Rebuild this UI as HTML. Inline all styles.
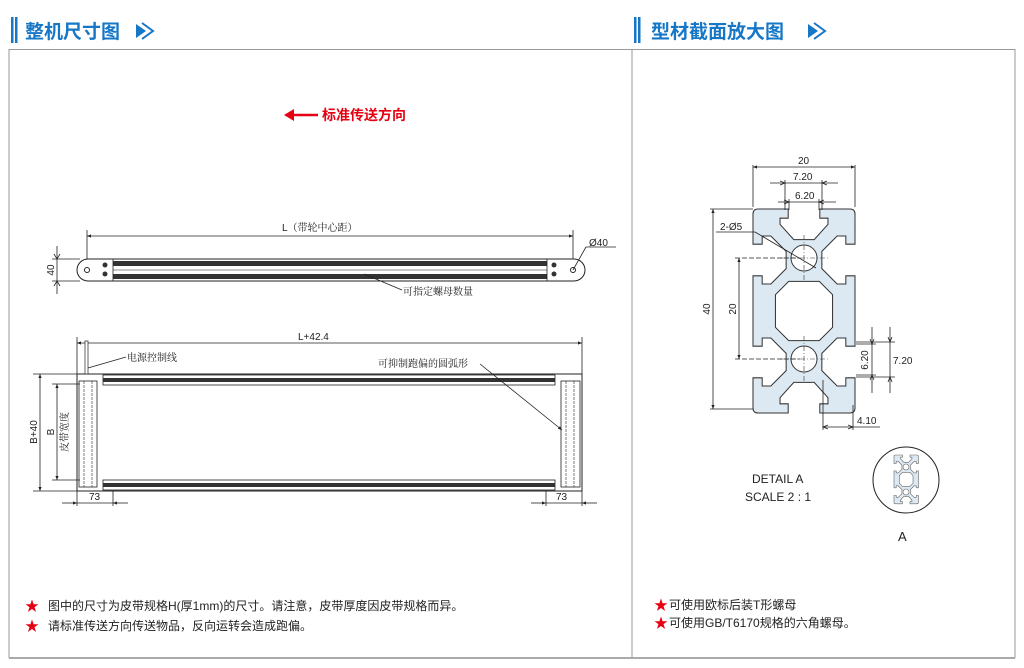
<!DOCTYPE html>
<html><head><meta charset="utf-8"><style>
html,body{margin:0;padding:0;background:#fff;width:1024px;height:668px;overflow:hidden}
svg{display:block;font-family:"Liberation Sans","Noto Sans CJK SC",sans-serif}
.h{font-family:"Noto Sans CJK SC","WenQuanYi Zen Hei",sans-serif;font-weight:bold;fill:#1677c7;font-size:19px}
.t{font-size:10px;fill:#222;font-family:"Liberation Sans","Noto Serif CJK SC",serif}
.d{font-size:10px;fill:#222}
.n{font-size:12px;fill:#222;font-family:"Liberation Sans","Noto Sans CJK SC",sans-serif}
.ln{stroke:#222;stroke-width:0.8;fill:none}
</style></head><body>
<svg width="1024" height="668" viewBox="0 0 1024 668" xmlns="http://www.w3.org/2000/svg">
<defs>
<marker id="a" viewBox="0 0 10 10" refX="10" refY="5" markerWidth="7" markerHeight="5" orient="auto-start-reverse"><path d="M0,1 L10,5 L0,9 Z" fill="#222"/></marker>
<path id="prof" d="M0,1 Q0,0 1,0 L6.9,0 L6.9,1.8 L5.3,1.8 L5.3,3 L8,6 L12,6 L14.7,3 L14.7,1.8 L13.1,1.8 L13.1,0 L19,0 Q20,0 20,1 L20,6.9 L18.2,6.9 L18.2,5.3 L16.5,5.3 L13.5,8.3 L13.5,11.7 L16.5,14.7 L18.2,14.7 L18.2,13.1 L20,13.1 L20,26.9 L18.2,26.9 L18.2,25.3 L16.5,25.3 L13.5,28.3 L13.5,31.7 L16.5,34.7 L18.2,34.7 L18.2,33.1 L20,33.1 L20,39 Q20,40 19,40 L13.1,40 L13.1,38.2 L14.7,38.2 L14.7,37 L12,34 L8,34 L5.3,37 L5.3,38.2 L6.9,38.2 L6.9,40 L1,40 Q0,40 0,39 L0,33.1 L1.8,33.1 L1.8,34.7 L3.5,34.7 L6.5,31.7 L6.5,28.3 L3.5,25.3 L1.8,25.3 L1.8,26.9 L0,26.9 L0,13.1 L1.8,13.1 L1.8,14.7 L3.5,14.7 L6.5,11.7 L6.5,8.3 L3.5,5.3 L1.8,5.3 L1.8,6.9 L0,6.9 Z M7,14.2 L13,14.2 L15.6,16.8 L15.6,23.2 L13,25.8 L7,25.8 L4.4,23.2 L4.4,16.8 Z"/>
</defs>
<!-- headers -->
<rect x="11" y="17" width="2.5" height="26" fill="#1677c7"/><rect x="15" y="17" width="2.5" height="26" fill="#1677c7"/>
<text x="25" y="38" class="h">整机尺寸图</text>
<path d="M136,24 L146,31 L136,38 Z" fill="#1677c7"/><path d="M142,23 L153,31 L142,39" stroke="#1677c7" stroke-width="2" fill="none"/>
<rect x="634" y="17" width="2.5" height="26" fill="#1677c7"/><rect x="638" y="17" width="2.5" height="26" fill="#1677c7"/>
<text x="651" y="38" class="h">型材截面放大图</text>
<path d="M808,24 L818,31 L808,38 Z" fill="#1677c7"/><path d="M814,23 L825,31 L814,39" stroke="#1677c7" stroke-width="2" fill="none"/>
<!-- frame -->
<rect x="9" y="49.5" width="1006" height="608" fill="none" stroke="#999" stroke-width="1"/>
<line x1="9" y1="658" x2="1015" y2="658" stroke="#aaa" stroke-width="2"/>
<line x1="632" y1="50" x2="632" y2="658" stroke="#999" stroke-width="1"/>
<!-- direction -->
<line x1="292" y1="115" x2="318" y2="115" stroke="#e60012" stroke-width="2.5"/>
<path d="M284,115 L294,109 L294,121 Z" fill="#e60012"/>
<text x="322" y="120" font-size="14" font-weight="bold" fill="#e60012" font-family="Noto Sans CJK SC,sans-serif">标准传送方向</text>
<!-- top view -->
<line x1="87" y1="236" x2="573" y2="236" class="ln" marker-start="url(#a)" marker-end="url(#a)"/>
<line x1="87" y1="230" x2="87" y2="262" class="ln"/><line x1="573" y1="230" x2="573" y2="262" class="ln"/>
<text x="282" y="231" class="t">L（带轮中心距）</text>
<rect x="77" y="259" width="508" height="22" rx="11" fill="#fff" stroke="#222" stroke-width="1"/>
<rect x="113" y="261" width="434" height="5" fill="#333"/><rect x="113" y="274" width="434" height="5" fill="#333"/>
<line x1="113" y1="270" x2="547" y2="270" stroke="#666" stroke-width="0.8"/>
<line x1="113" y1="259" x2="113" y2="281" class="ln"/><line x1="547" y1="259" x2="547" y2="281" class="ln"/>
<circle cx="87" cy="270" r="2.5" fill="#fff" stroke="#222"/><circle cx="573" cy="270" r="2.5" fill="#fff" stroke="#222"/>
<circle cx="105" cy="265" r="2.5" fill="#333"/><circle cx="105" cy="274" r="2.5" fill="#333"/>
<circle cx="554" cy="265" r="2.5" fill="#333"/><circle cx="554" cy="274" r="2.5" fill="#333"/>
<line x1="52" y1="259" x2="80" y2="259" class="ln"/><line x1="52" y1="281" x2="80" y2="281" class="ln"/>
<line x1="57" y1="246" x2="57" y2="294" class="ln"/>
<path d="M54,254 L57,259 L60,254 M54,286 L57,281 L60,286" class="ln"/>
<text x="54" y="270" class="d" transform="rotate(-90 54 270)" text-anchor="middle">40</text>
<line x1="573" y1="270" x2="586" y2="247" class="ln"/><line x1="586" y1="247" x2="616" y2="247" class="ln"/>
<text x="589" y="246" class="d" font-size="11">Ø40</text>
<line x1="364" y1="274" x2="402" y2="290" class="ln"/>
<text x="403" y="295" class="t">可指定螺母数量</text>
<!-- bottom view -->
<line x1="77" y1="343" x2="582" y2="343" class="ln" marker-start="url(#a)" marker-end="url(#a)"/>
<line x1="77" y1="337" x2="77" y2="375" class="ln"/><line x1="582" y1="337" x2="582" y2="375" class="ln"/>
<text x="298" y="340" class="d">L+42.4</text>
<rect x="77" y="374" width="505" height="117" fill="#fff" stroke="#222" stroke-width="1"/>
<rect x="103" y="375" width="452" height="10" fill="#fff" stroke="#222" stroke-width="0.8"/>
<rect x="103" y="378" width="452" height="4" fill="#333"/>
<rect x="103" y="480" width="452" height="10" fill="#fff" stroke="#222" stroke-width="0.8"/>
<rect x="103" y="483" width="452" height="4" fill="#333"/>
<rect x="79" y="381" width="18" height="106" fill="#fff" stroke="#222" stroke-width="0.8"/>
<line x1="84" y1="381" x2="84" y2="487" stroke="#222" stroke-width="0.6" stroke-dasharray="3,1"/>
<line x1="92" y1="381" x2="92" y2="487" stroke="#222" stroke-width="0.6" stroke-dasharray="3,1"/>
<rect x="561" y="381" width="19" height="106" fill="#fff" stroke="#222" stroke-width="0.8"/>
<line x1="566" y1="381" x2="566" y2="487" stroke="#222" stroke-width="0.6" stroke-dasharray="3,1"/>
<line x1="574" y1="381" x2="574" y2="487" stroke="#222" stroke-width="0.6" stroke-dasharray="3,1"/>
<rect x="85" y="341" width="3" height="33" fill="#fff" stroke="#222" stroke-width="0.7"/>
<line x1="88" y1="368" x2="126" y2="357" class="ln"/>
<text x="127" y="361" class="t">电源控制线</text>
<text x="378" y="367" class="t">可抑制跑偏的圆弧形</text>
<line x1="480" y1="364" x2="562" y2="430" class="ln" marker-end="url(#a)"/>
<line x1="33" y1="374" x2="77" y2="374" class="ln"/><line x1="33" y1="491" x2="77" y2="491" class="ln"/>
<line x1="40" y1="374" x2="40" y2="491" class="ln" marker-start="url(#a)" marker-end="url(#a)"/>
<text x="37" y="432" class="d" transform="rotate(-90 37 432)" text-anchor="middle">B+40</text>
<line x1="52" y1="384" x2="80" y2="384" class="ln"/><line x1="52" y1="480" x2="80" y2="480" class="ln"/>
<line x1="57" y1="384" x2="57" y2="480" class="ln" marker-start="url(#a)" marker-end="url(#a)"/>
<text x="54" y="432" class="d" transform="rotate(-90 54 432)" text-anchor="middle">B</text>
<text x="68" y="432" class="t" transform="rotate(-90 68 432)" text-anchor="middle">皮带宽度</text>
<line x1="77" y1="491" x2="77" y2="506" class="ln"/><line x1="113" y1="491" x2="113" y2="506" class="ln"/>
<line x1="62" y1="503" x2="77" y2="503" class="ln" marker-end="url(#a)"/><line x1="128" y1="503" x2="113" y2="503" class="ln" marker-end="url(#a)"/>
<line x1="77" y1="503" x2="113" y2="503" class="ln"/>
<text x="89" y="500" class="d">73</text>
<line x1="546" y1="491" x2="546" y2="506" class="ln"/><line x1="582" y1="491" x2="582" y2="506" class="ln"/>
<line x1="531" y1="503" x2="546" y2="503" class="ln" marker-end="url(#a)"/><line x1="597" y1="503" x2="582" y2="503" class="ln" marker-end="url(#a)"/>
<line x1="546" y1="503" x2="582" y2="503" class="ln"/>
<text x="556" y="500" class="d">73</text>
<!-- profile -->
<use href="#prof" fill="#dce9f3" stroke="#333" stroke-width="0.2" fill-rule="evenodd" transform="translate(753,209) scale(5.1)"/>
<circle cx="804" cy="258" r="13" fill="#fff" stroke="#333"/>
<circle cx="804" cy="359" r="13" fill="#fff" stroke="#333"/>
<g stroke="#333" stroke-width="0.6" stroke-dasharray="5,2,1,2">
<line x1="804" y1="235" x2="804" y2="282"/><line x1="780" y1="258" x2="828" y2="258"/>
<line x1="804" y1="336" x2="804" y2="382"/><line x1="780" y1="359" x2="828" y2="359"/></g>
<line x1="753" y1="165" x2="753" y2="207" class="ln"/><line x1="855" y1="165" x2="855" y2="207" class="ln"/>
<line x1="753" y1="167" x2="855" y2="167" class="ln" marker-start="url(#a)" marker-end="url(#a)"/>
<text x="798" y="164" class="d">20</text>
<line x1="785" y1="180" x2="785" y2="210" class="ln"/><line x1="822" y1="180" x2="822" y2="210" class="ln"/>
<line x1="770" y1="183" x2="838" y2="183" class="ln"/>
<path d="M780,181 L785,183 L780,185 M827,181 L822,183 L827,185" class="ln"/>
<text x="793" y="180" class="d">7.20</text>
<line x1="789" y1="199" x2="789" y2="210" class="ln"/><line x1="819" y1="199" x2="819" y2="210" class="ln"/>
<line x1="778" y1="202" x2="836" y2="202" class="ln"/>
<path d="M784,200 L789,202 L784,204 M824,200 L819,202 L824,204" class="ln"/>
<text x="795" y="199" class="d">6.20</text>
<text x="720" y="230" class="d" font-size="11">2-Ø5</text>
<line x1="716" y1="232" x2="755" y2="232" class="ln"/><line x1="755" y1="232" x2="816" y2="268" class="ln"/>
<line x1="710" y1="209" x2="753" y2="209" class="ln"/><line x1="710" y1="409" x2="753" y2="409" class="ln"/>
<line x1="713" y1="209" x2="713" y2="409" class="ln" marker-start="url(#a)" marker-end="url(#a)"/>
<text x="710" y="309" class="d" transform="rotate(-90 710 309)" text-anchor="middle">40</text>
<line x1="735" y1="258" x2="800" y2="258" class="ln" stroke-dasharray="5,2"/><line x1="735" y1="359" x2="800" y2="359" class="ln" stroke-dasharray="5,2"/>
<line x1="739" y1="258" x2="739" y2="359" class="ln" marker-start="url(#a)" marker-end="url(#a)"/>
<text x="736" y="309" class="d" transform="rotate(-90 736 309)" text-anchor="middle">20</text>
<line x1="856" y1="342" x2="895" y2="342" class="ln"/><line x1="856" y1="377" x2="895" y2="377" class="ln"/>
<line x1="856" y1="344" x2="876" y2="344" class="ln"/><line x1="856" y1="375" x2="876" y2="375" class="ln"/>
<line x1="872" y1="327" x2="872" y2="393" class="ln"/>
<path d="M870,339 L872,344 L874,339 M870,380 L872,375 L874,380" class="ln"/>
<text x="868" y="360" class="d" transform="rotate(-90 868 360)" text-anchor="middle">6.20</text>
<line x1="890" y1="327" x2="890" y2="393" class="ln"/>
<path d="M888,337 L890,342 L892,337 M888,382 L890,377 L892,382" class="ln"/>
<text x="893" y="364" class="d">7.20</text>
<line x1="823" y1="380" x2="823" y2="430" class="ln"/><line x1="853" y1="405" x2="853" y2="430" class="ln"/>
<line x1="823" y1="427" x2="880" y2="427" class="ln"/>
<path d="M828,425 L823,427 L828,429 M848,425 L853,427 L848,429" class="ln"/>
<text x="857" y="424" class="d">4.10</text>
<!-- detail A -->
<text x="752" y="483" font-size="12" fill="#222">DETAIL A</text>
<text x="745" y="501" font-size="12" fill="#222">SCALE 2 : 1</text>
<circle cx="906" cy="480" r="33" fill="#fff" stroke="#222" stroke-width="1"/>
<use href="#prof" fill="#dce9f3" stroke="#666" stroke-width="0.5" fill-rule="evenodd" transform="translate(894,455) scale(1.22)"/>
<circle cx="906" cy="467" r="3" fill="#fff" stroke="#666" stroke-width="0.6"/>
<circle cx="906" cy="492" r="3" fill="#fff" stroke="#666" stroke-width="0.6"/>
<text x="898" y="541" font-size="13" fill="#222">A</text>
<!-- notes -->
<text x="25" y="611" font-size="14" fill="#e60012">★</text>
<text x="48" y="610" class="n">图中的尺寸为皮带规格H(厚1mm)的尺寸。请注意，皮带厚度因皮带规格而异。</text>
<text x="25" y="631" font-size="14" fill="#e60012">★</text>
<text x="48" y="630" class="n">请标准传送方向传送物品，反向运转会造成跑偏。</text>
<text x="654" y="610" font-size="14" fill="#e60012">★</text>
<text x="669" y="609" class="n">可使用欧标后装T形螺母</text>
<text x="654" y="628" font-size="14" fill="#e60012">★</text>
<text x="669" y="627" class="n">可使用GB/T6170规格的六角螺母。</text>
</svg>
</body></html>
